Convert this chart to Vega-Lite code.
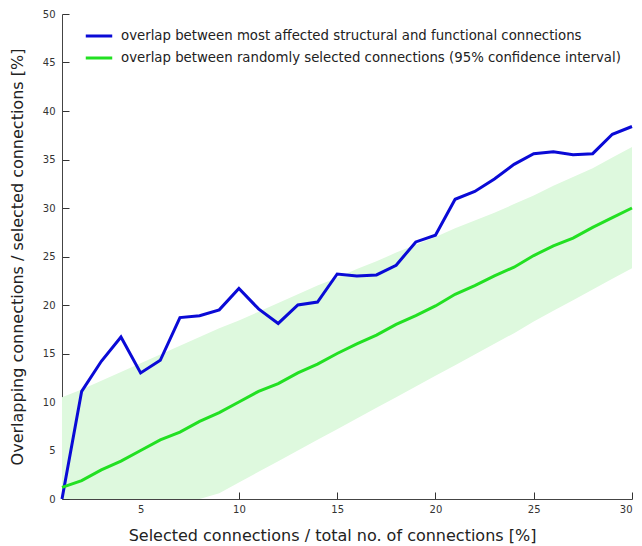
{
  "$schema": "https://vega.github.io/schema/vega-lite/v6.json",
  "width": 570,
  "height": 485,
  "autosize": "none",
  "padding": {"left": 62, "top": 14, "right": 10, "bottom": 47},
  "background": "white",
  "config": {
    "font": "DejaVu Sans",
    "view": {"stroke": null},
    "axis": {"grid": false, "zindex": 1, "domainColor": "#444", "tickColor": "#333", "labelColor": "#333", "titleColor": "#222", "labelFontSize": 10, "titleFontSize": 16, "titleFontWeight": "normal", "tickSize": -7, "labelFont": "DejaVu Sans", "titleFont": "DejaVu Sans"}
  },
  "datasets": {
    "band": [
      {"x": 1, "lo": 0, "hi": 10.5}, {"x": 2, "lo": 0, "hi": 11.3}, {"x": 3, "lo": 0, "hi": 12.2},
      {"x": 4, "lo": 0, "hi": 13.1}, {"x": 5, "lo": 0, "hi": 14.0}, {"x": 6, "lo": 0, "hi": 14.9},
      {"x": 7, "lo": 0, "hi": 15.8}, {"x": 8, "lo": 0, "hi": 16.7}, {"x": 9, "lo": 0.6, "hi": 17.6},
      {"x": 10, "lo": 1.7, "hi": 18.4}, {"x": 11, "lo": 2.8, "hi": 19.3}, {"x": 12, "lo": 3.9, "hi": 20.2},
      {"x": 13, "lo": 5.0, "hi": 21.1}, {"x": 14, "lo": 6.1, "hi": 22.0}, {"x": 15, "lo": 7.2, "hi": 22.8},
      {"x": 16, "lo": 8.3, "hi": 23.7}, {"x": 17, "lo": 9.4, "hi": 24.5}, {"x": 18, "lo": 10.5, "hi": 25.4},
      {"x": 19, "lo": 11.6, "hi": 26.2}, {"x": 20, "lo": 12.7, "hi": 27.0}, {"x": 21, "lo": 13.8, "hi": 27.9},
      {"x": 22, "lo": 14.9, "hi": 28.7}, {"x": 23, "lo": 16.0, "hi": 29.5}, {"x": 24, "lo": 17.1, "hi": 30.4},
      {"x": 25, "lo": 18.3, "hi": 31.3}, {"x": 26, "lo": 19.4, "hi": 32.3}, {"x": 27, "lo": 20.5, "hi": 33.2},
      {"x": 28, "lo": 21.6, "hi": 34.1}, {"x": 29, "lo": 22.7, "hi": 35.2}, {"x": 30, "lo": 23.8, "hi": 36.3}
    ],
    "lines": [
      {"x": 1, "s": "overlap between most affected structural and functional connections", "y": 0},
      {"x": 2, "s": "overlap between most affected structural and functional connections", "y": 11.1},
      {"x": 3, "s": "overlap between most affected structural and functional connections", "y": 14.2},
      {"x": 4, "s": "overlap between most affected structural and functional connections", "y": 16.7},
      {"x": 5, "s": "overlap between most affected structural and functional connections", "y": 13.0},
      {"x": 6, "s": "overlap between most affected structural and functional connections", "y": 14.3},
      {"x": 7, "s": "overlap between most affected structural and functional connections", "y": 18.7},
      {"x": 8, "s": "overlap between most affected structural and functional connections", "y": 18.9},
      {"x": 9, "s": "overlap between most affected structural and functional connections", "y": 19.5},
      {"x": 10, "s": "overlap between most affected structural and functional connections", "y": 21.7},
      {"x": 11, "s": "overlap between most affected structural and functional connections", "y": 19.6},
      {"x": 12, "s": "overlap between most affected structural and functional connections", "y": 18.1},
      {"x": 13, "s": "overlap between most affected structural and functional connections", "y": 20.0},
      {"x": 14, "s": "overlap between most affected structural and functional connections", "y": 20.3},
      {"x": 15, "s": "overlap between most affected structural and functional connections", "y": 23.2},
      {"x": 16, "s": "overlap between most affected structural and functional connections", "y": 23.0},
      {"x": 17, "s": "overlap between most affected structural and functional connections", "y": 23.1},
      {"x": 18, "s": "overlap between most affected structural and functional connections", "y": 24.1},
      {"x": 19, "s": "overlap between most affected structural and functional connections", "y": 26.5},
      {"x": 20, "s": "overlap between most affected structural and functional connections", "y": 27.2},
      {"x": 21, "s": "overlap between most affected structural and functional connections", "y": 30.9},
      {"x": 22, "s": "overlap between most affected structural and functional connections", "y": 31.7},
      {"x": 23, "s": "overlap between most affected structural and functional connections", "y": 33.0},
      {"x": 24, "s": "overlap between most affected structural and functional connections", "y": 34.5},
      {"x": 25, "s": "overlap between most affected structural and functional connections", "y": 35.6},
      {"x": 26, "s": "overlap between most affected structural and functional connections", "y": 35.8},
      {"x": 27, "s": "overlap between most affected structural and functional connections", "y": 35.5},
      {"x": 28, "s": "overlap between most affected structural and functional connections", "y": 35.6},
      {"x": 29, "s": "overlap between most affected structural and functional connections", "y": 37.6},
      {"x": 30, "s": "overlap between most affected structural and functional connections", "y": 38.4},
      {"x": 1, "s": "overlap between randomly selected connections (95% confidence interval)", "y": 1.2},
      {"x": 2, "s": "overlap between randomly selected connections (95% confidence interval)", "y": 1.9},
      {"x": 3, "s": "overlap between randomly selected connections (95% confidence interval)", "y": 3.0},
      {"x": 4, "s": "overlap between randomly selected connections (95% confidence interval)", "y": 3.9},
      {"x": 5, "s": "overlap between randomly selected connections (95% confidence interval)", "y": 5.0},
      {"x": 6, "s": "overlap between randomly selected connections (95% confidence interval)", "y": 6.1},
      {"x": 7, "s": "overlap between randomly selected connections (95% confidence interval)", "y": 6.9},
      {"x": 8, "s": "overlap between randomly selected connections (95% confidence interval)", "y": 8.0},
      {"x": 9, "s": "overlap between randomly selected connections (95% confidence interval)", "y": 8.9},
      {"x": 10, "s": "overlap between randomly selected connections (95% confidence interval)", "y": 10.0},
      {"x": 11, "s": "overlap between randomly selected connections (95% confidence interval)", "y": 11.1},
      {"x": 12, "s": "overlap between randomly selected connections (95% confidence interval)", "y": 11.9},
      {"x": 13, "s": "overlap between randomly selected connections (95% confidence interval)", "y": 13.0},
      {"x": 14, "s": "overlap between randomly selected connections (95% confidence interval)", "y": 13.9},
      {"x": 15, "s": "overlap between randomly selected connections (95% confidence interval)", "y": 15.0},
      {"x": 16, "s": "overlap between randomly selected connections (95% confidence interval)", "y": 16.0},
      {"x": 17, "s": "overlap between randomly selected connections (95% confidence interval)", "y": 16.9},
      {"x": 18, "s": "overlap between randomly selected connections (95% confidence interval)", "y": 18.0},
      {"x": 19, "s": "overlap between randomly selected connections (95% confidence interval)", "y": 18.9},
      {"x": 20, "s": "overlap between randomly selected connections (95% confidence interval)", "y": 19.9},
      {"x": 21, "s": "overlap between randomly selected connections (95% confidence interval)", "y": 21.1},
      {"x": 22, "s": "overlap between randomly selected connections (95% confidence interval)", "y": 22.0},
      {"x": 23, "s": "overlap between randomly selected connections (95% confidence interval)", "y": 23.0},
      {"x": 24, "s": "overlap between randomly selected connections (95% confidence interval)", "y": 23.9},
      {"x": 25, "s": "overlap between randomly selected connections (95% confidence interval)", "y": 25.1},
      {"x": 26, "s": "overlap between randomly selected connections (95% confidence interval)", "y": 26.1},
      {"x": 27, "s": "overlap between randomly selected connections (95% confidence interval)", "y": 26.9},
      {"x": 28, "s": "overlap between randomly selected connections (95% confidence interval)", "y": 28.0},
      {"x": 29, "s": "overlap between randomly selected connections (95% confidence interval)", "y": 29.0},
      {"x": 30, "s": "overlap between randomly selected connections (95% confidence interval)", "y": 30.0}
    ]
  },
  "layer": [
    {
      "data": {"name": "band"},
      "mark": {"type": "area", "color": "#def9de", "opacity": 1},
      "encoding": {
        "x": {"field": "x", "type": "quantitative", "scale": {"domain": [1, 30], "nice": false, "zero": false},
          "axis": {"values": [5, 10, 15, 20, 25, 30], "title": "Selected connections / total no. of connections [%]", "labelPadding": 12, "titlePadding": 13, "titleX": 270}},
        "y": {"field": "lo", "type": "quantitative", "scale": {"domain": [0, 50], "nice": false},
          "axis": {"values": [0, 5, 10, 15, 20, 25, 30, 35, 40, 45, 50], "title": "Overlapping connections / selected connections [%]", "labelPadding": 14, "titlePadding": 17}},
        "y2": {"field": "hi"}
      }
    },
    {
      "data": {"name": "lines"},
      "mark": {"type": "line", "strokeWidth": 3},
      "encoding": {
        "x": {"field": "x", "type": "quantitative"},
        "y": {"field": "y", "type": "quantitative"},
        "color": {"field": "s", "type": "nominal",
          "scale": {"domain": ["overlap between most affected structural and functional connections", "overlap between randomly selected connections (95% confidence interval)"], "range": ["#0a0ad6", "#22e022"]},
          "legend": {"title": null, "orient": "none", "legendX": 22, "legendY": 7, "symbolType": "stroke", "symbolStrokeWidth": 3, "symbolSize": 700, "labelFontSize": 13.3, "labelColor": "#222", "labelLimit": 600, "rowPadding": 0, "labelOffset": 7, "labelFont": "DejaVu Sans"}}
      }
    }
  ]
}
